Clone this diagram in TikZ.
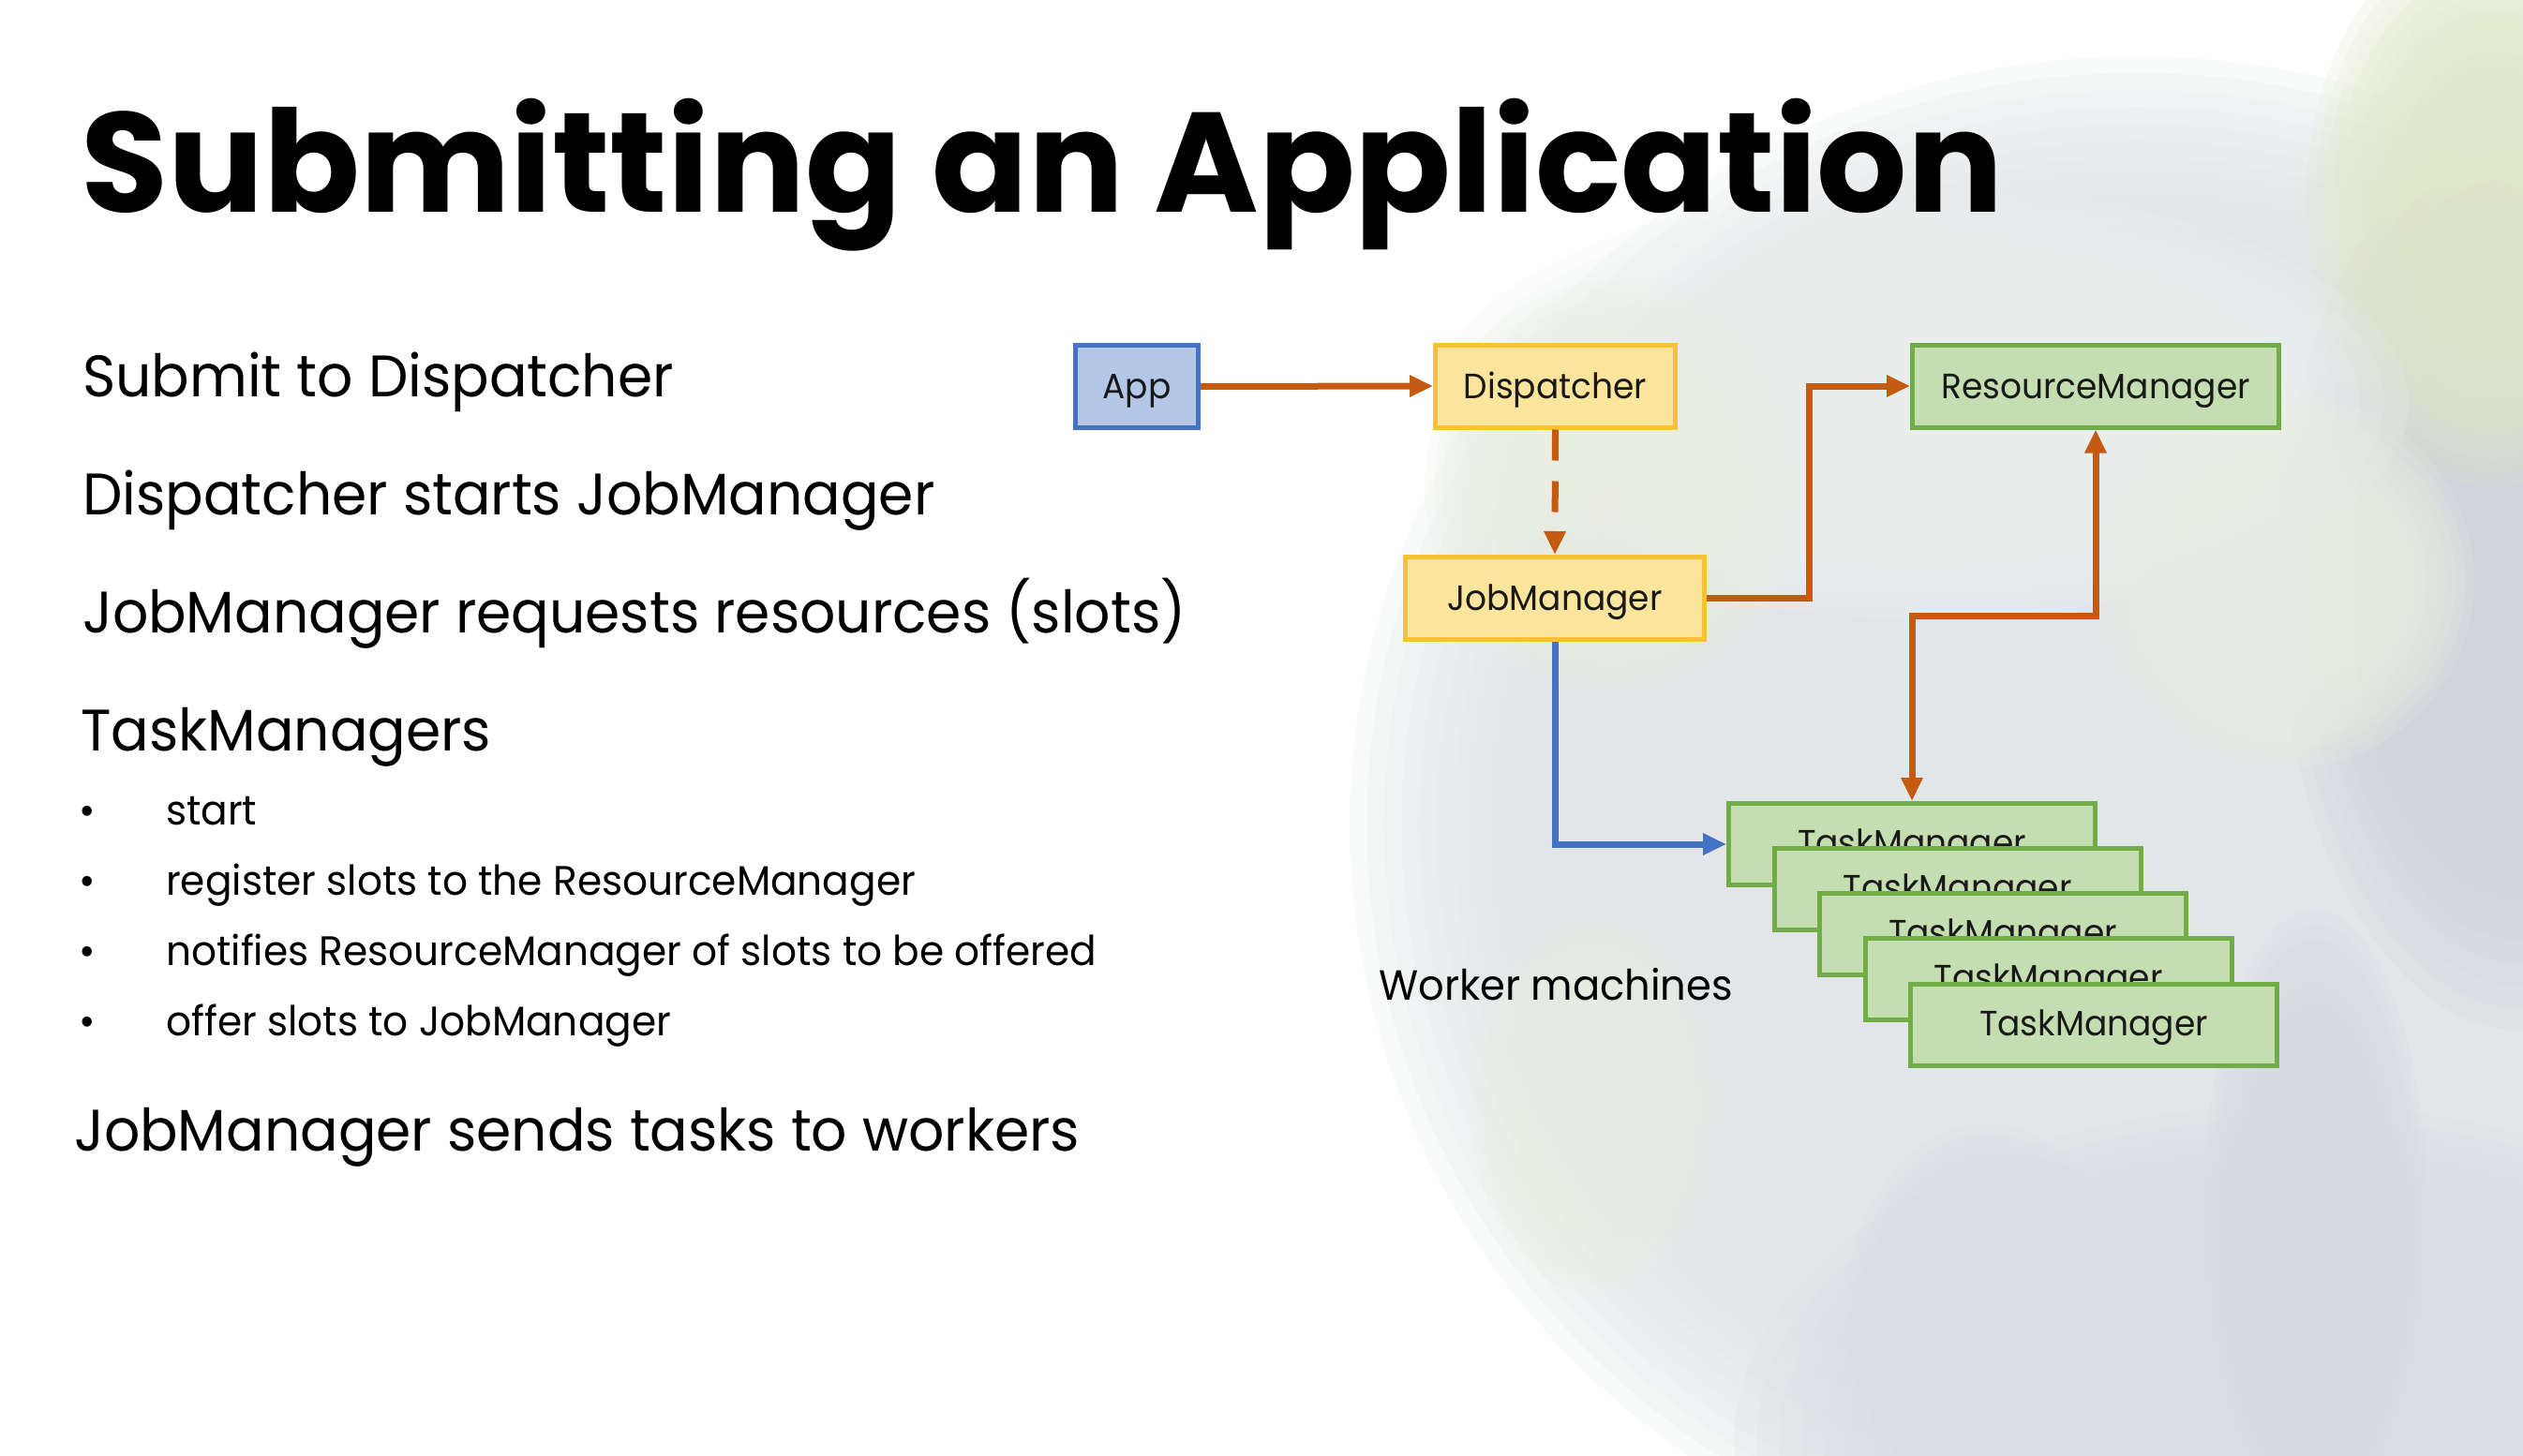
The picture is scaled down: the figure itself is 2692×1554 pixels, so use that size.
\documentclass[tikz,border=0pt]{standalone}
\usepackage{fontspec}
\setmainfont{Poppins}[FakeStretch=0.96]
\newfontfamily\titlefont{Poppins}
\usetikzlibrary{arrows.meta}

\definecolor{appfill}{HTML}{B4C7E7}
\definecolor{appline}{HTML}{4472C4}
\definecolor{yfill}{HTML}{FBE49C}
\definecolor{yline}{HTML}{F7C234}
\definecolor{gfill}{HTML}{C5DEB1}
\definecolor{gline}{HTML}{70AD47}
\definecolor{flow}{HTML}{C55A11}
\definecolor{work}{HTML}{4472C4}
\definecolor{hazeA}{HTML}{E2E6E8}
\definecolor{hazeB}{HTML}{D8DEE4}
\definecolor{hazeC}{HTML}{CFD5DB}
\definecolor{hazeD}{HTML}{DFE8C8}
\definecolor{hazeE}{HTML}{EAF0E1}
\definecolor{hazeF}{HTML}{F0F2F1}
\definecolor{hazeG}{HTML}{D6D9E3}

% soft blob built from stacked translucent ellipses:
% colour, centre x, centre y, x radius, y radius, shrink per step
\newcommand\softblob[6]{%
  \foreach \k in {0,...,11}{%
    \fill[#1, opacity=0.18] (#2,#3) ellipse [x radius={#4*(1-#6*\k)}, y radius={#5*(1-#6*\k)}];}}

\begin{document}
\begin{tikzpicture}[x=1pt,y=-1pt,
  box/.style={draw, line width=5pt, inner sep=0pt, text=black!90,
              text height=26pt, text depth=0pt,
              font=\fontsize{37.5}{42}\selectfont},
  appbox/.style={box, fill=appfill, draw=appline, minimum width=131pt, minimum height=88pt},
  ybox/.style={box, fill=yfill, draw=yline, minimum height=88pt},
  gbox/.style={box, fill=gfill, draw=gline, minimum height=88pt},
  tmbox/.style={gbox, minimum width=391pt, minimum height=87pt, text height=22pt},
  link/.style={line width=7pt, -{Triangle[length=25pt,width=22pt]}},
  head/.style={anchor=base west, inner sep=0pt, font=\fontsize{62.5}{70}\selectfont},
  item/.style={anchor=base west, inner sep=0pt, font=\fontsize{44}{50}\selectfont},
  dot/.style={anchor=base, inner sep=0pt, font=\fontsize{44}{50}\selectfont}]

\useasboundingbox (0,0) rectangle (2692,1554);
\fill[white] (0,0) rectangle (2692,1554);

% hazy backdrop on the right
\softblob{hazeA}{2280}{880}{840}{820}{0.022}
\softblob{hazeB}{2450}{1540}{600}{360}{0.04}
\softblob{hazeC}{2690}{620}{260}{480}{0.05}
\softblob{hazeD}{2660}{220}{200}{300}{0.05}
\softblob{hazeF}{2050}{430}{520}{230}{0.05}
\softblob{hazeE}{1720}{520}{200}{220}{0.05}
\softblob{hazeE}{2440}{620}{200}{200}{0.05}
\softblob{hazeE}{1700}{1180}{130}{200}{0.05}
\softblob{hazeG}{2470}{1300}{120}{330}{0.05}
\softblob{hazeB}{2120}{1400}{150}{200}{0.05}

% title and bullet text
\node[anchor=base west, inner sep=0pt, font=\fontsize{151.5}{160}\selectfont\titlefont\bfseries] (title) at (86,227) {Submitting an Application};

\node[head] (l1) at (88,423) {Submit to Dispatcher};
\node[head] (l2) at (88,549) {Dispatcher starts JobManager};
\node[head] (l3) at (88,675) {JobManager requests resources (slots)};
\node[head] (l4) at (86,801) {TaskManagers};
\node[dot] (b1) at (93,880) {•};
\node[item] (s1) at (177,880) {start};
\node[dot] (b2) at (93,955) {•};
\node[item] (s2) at (177,955) {register slots to the ResourceManager};
\node[dot] (b3) at (93,1030) {•};
\node[item] (s3) at (177,1030) {notifies ResourceManager of slots to be offered};
\node[dot] (b4) at (93,1105) {•};
\node[item] (s4) at (177,1105) {offer slots to JobManager};
\node[head] (l5) at (79,1228) {JobManager sends tasks to workers};

% boxes
\node[appbox] (app) at (1213,412.5) {App};
\node[ybox, minimum width=256pt] (disp) at (1659.5,412) {Dispatcher};
\node[gbox, minimum width=391pt] (rm) at (2236,412) {ResourceManager};
\node[ybox, minimum width=319pt] (jm) at (1659,638.5) {JobManager};

\node[tmbox] (tm1) at (2040,901) {TaskManager};
\node[tmbox] (tm2) at (2088.5,949) {TaskManager};
\node[tmbox] (tm3) at (2137,997) {TaskManager};
\node[tmbox] (tm4) at (2185.5,1045) {TaskManager};
\node[tmbox] (tm5) at (2234,1094) {TaskManager};

\node[anchor=base west, inner sep=0pt, font=\fontsize{45}{50}\selectfont] (workers) at (1471,1067) {Worker machines};

% connectors
\coordinate (jmturn) at (1930,638.5);
\coordinate (tmturn) at (2040,657);

\draw[link, flow] (app.east) -- (disp.west);
\draw[link, flow, dash pattern=on 33pt off 22pt] (disp.south) -- (jm.north);
\draw[link, flow] (jm.east) -- (jmturn) |- (rm.west);
\draw[line width=7pt, flow, {Triangle[length=25pt,width=22pt]}-{Triangle[length=25pt,width=22pt]}] (tm1.north) -- (tmturn) -| (rm.south);
\draw[link, work] (jm.south) |- (tm1.west);

\end{tikzpicture}
\end{document}
